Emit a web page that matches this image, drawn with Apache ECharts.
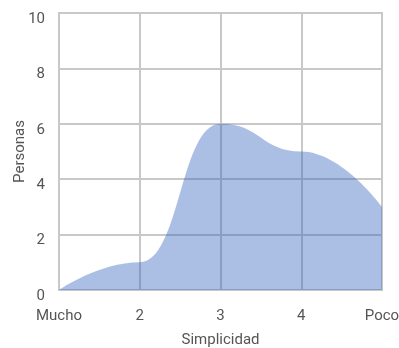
<!DOCTYPE html>
<html><head><meta charset="utf-8">
<script src="https://cdn.jsdelivr.net/npm/echarts@6/dist/echarts.min.js"></script>
<style>html,body{margin:0;padding:0;background:#fff}#c{width:399px;height:348px}</style>
</head><body><div id="c"></div>
<script>
const categories = ['Mucho', '2', '3', '4', 'Poco'];
const personas = [0, 1, 6, 5, 3];
const yTicks = [0, 2, 4, 6, 8, 10];

const chart = echarts.init(document.getElementById('c'), null, {renderer: 'canvas'});
const gridColor = '#c8c8c8';
const txt = '#555';
chart.setOption({
  animation: false,
  textStyle: {fontFamily: 'Roboto'},
  grid: {left: 59, right: 17, top: 13, bottom: 58, outerBoundsMode: 'none', containLabel: false, show: true, borderColor: gridColor, borderWidth: 2, backgroundColor: 'transparent'},
  xAxis: {
    type: 'category', data: categories, boundaryGap: false,
    name: 'Simplicidad', nameLocation: 'middle', nameGap: 43, nameMoveOverlap: false,
    nameTextStyle: {color: txt, fontSize: 15},
    axisLine: {lineStyle: {color: gridColor, width: 2}},
    axisTick: {show: false},
    axisLabel: {color: txt, fontSize: 15, margin: 19, hideOverlap: false},
    splitLine: {show: true, lineStyle: {color: gridColor, width: 2}}
  },
  yAxis: {
    type: 'value', min: 0, max: 10, interval: 2,
    name: 'Personas', nameLocation: 'middle', nameGap: 31, nameMoveOverlap: false,
    nameTextStyle: {color: txt, fontSize: 15},
    axisLine: {show: true, lineStyle: {color: gridColor, width: 2}},
    axisTick: {show: false},
    axisLabel: {color: txt, fontSize: 15, margin: 14, verticalAlign: 'top', lineHeight: 12, formatter: v => yTicks.includes(v) ? String(v) : ''},
    splitLine: {show: true, lineStyle: {color: gridColor, width: 2}}
  },
  series: [{
    type: 'line', data: personas, smooth: 0.5, smoothMonotone: 'x',
    symbol: 'none', lineStyle: {width: 0},
    areaStyle: {color: 'rgba(45,95,190,0.4)', opacity: 1}
  }]
});
</script></body></html>
